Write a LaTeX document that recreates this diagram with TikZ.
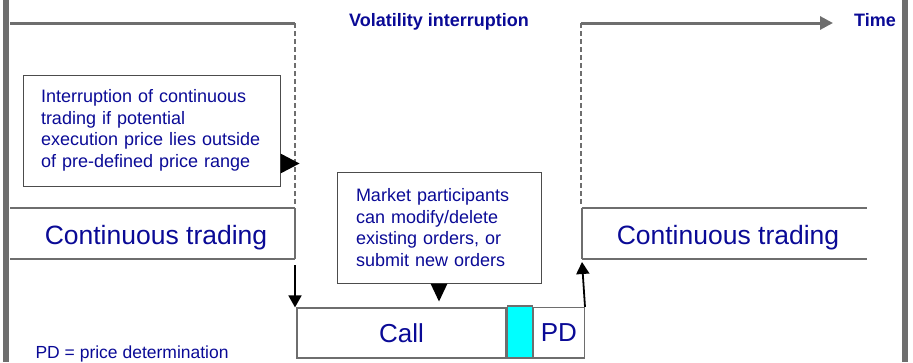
\documentclass[tikz,border=0pt]{standalone}
\usepackage{fontspec}
\setmainfont{Liberation Sans}
\usepackage{tikz}
\usetikzlibrary{arrows.meta}
\usetikzlibrary{calc,positioning}
\definecolor{txtblue}{RGB}{10,10,150}
\definecolor{linegray}{RGB}{110,110,110}
\definecolor{callcyan}{RGB}{0,255,255}

\begin{document}
\begin{tikzpicture}[x=1pt,y=-1pt,
			axis/.style={draw=linegray, line width=3pt},
			dashline/.style={draw=linegray, line width=1.5pt, dash pattern=on 5pt off 3pt},
			band/.style={draw=linegray, line width=2.5pt},
			arr/.style={draw=black, line width=1.8pt, -{Triangle[length=12pt,width=13pt]}}]
			\useasboundingbox (0,0) rectangle (913,362);
			% side bars
			\fill[linegray] (3,0) rectangle (9,362);
			\fill[linegray] (902,0) rectangle (908,362);

			% time axis
			\draw[axis] (10,23) -- (295,23);
			\draw[dashline] (295,23) -- (295,205);
			\draw[dashline] (581,23) -- (581,205);
			\draw[axis, -{Triangle[length=13pt,width=13pt]}] (581,23) -- (833,23);

			% trading bands
			\draw[band] (10,208) -- (295,208);
			\draw[band] (10,259) -- (295,259);
			\draw[linegray, line width=1.2pt] (295,208) -- (295,259);
			\draw[band] (582,208) -- (867,208);
			\draw[band] (582,259) -- (867,259);
			\draw[linegray, line width=1.2pt] (582,208) -- (582,259);

			\begin{scope}[every node/.style={text=txtblue}]
				\node[anchor=base, font=\bfseries\fontsize{18}{20}\selectfont] (VI) at (439,26) {Volatility interruption};
				\node[anchor=base, font=\bfseries\fontsize{18}{20}\selectfont] (T) at (875,26) {Time};
				\node[anchor=base, font=\fontsize{26.5}{30}\selectfont] (CT1) at (156,244) {Continuous trading};
				\node[anchor=base, font=\fontsize{26.5}{30}\selectfont] (CT2) at (728,244) {Continuous trading};
				\node[anchor=base west, font=\fontsize{17.5}{20}\selectfont] (K) at (32,358) {PD = price determination};
			\end{scope}

			\begin{scope}[every node/.style={draw=black!70, line width=1pt, align=left,
					text=txtblue, font=\fontsize{18}{21.5}\selectfont}]
				\node[text width=221pt, inner xsep=18pt, minimum height=111pt] (I) at (151.5,130.5)
					{Interruption of continuous\\trading if potential\\execution price lies outside\\of pre-defined price range};
				\node[text width=166pt, inner xsep=19pt, minimum height=111pt] (M) at (439,227.5)
					{Market participants\\can modify/delete\\existing orders, or\\submit new orders};
			\end{scope}

			\begin{scope}[every node/.style={draw=linegray, line width=1.2pt, inner sep=0pt,
					text=txtblue, font=\fontsize{26}{30}\selectfont}]
				\node[minimum width=209pt, minimum height=50pt] (Call) at (401.5,333) {Call};
				\node[fill=callcyan, minimum width=25pt, minimum height=52pt, anchor=south west] (VB) at (Call.south east) {};
				\node[minimum width=51pt, minimum height=50.5pt, anchor=south west] (PD) at (VB.south east) {PD};
			\end{scope}

			% pointers
			\fill ($(I.south east)+(0,-33)$) -- ($(I.south east)+(19,-23)$) -- ($(I.south east)+(0,-13)$) -- cycle;
			\fill ($(M.south)+(-8.5,0)$) -- ($(M.south)+(0,18)$) -- ($(M.south)+(8.5,0)$) -- cycle;

			\coordinate (L) at (295,265);
			\coordinate (R) at (582,262);
			\draw[arr] (L) -- (L |- Call.north);
			\draw[arr] (PD.north east) -- (R);
		\end{tikzpicture}
\end{document}
